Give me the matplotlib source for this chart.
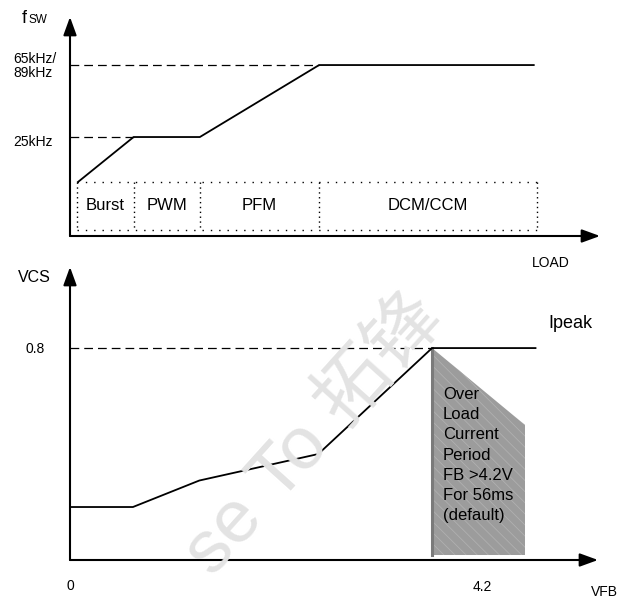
import matplotlib
matplotlib.use("Agg")
import matplotlib.pyplot as plt

plt.rcParams['font.family'] = ['Liberation Sans', 'Noto Sans CJK SC', 'DejaVu Sans']
plt.rcParams['hatch.linewidth'] = 0.6

# top panel: switching frequency vs load
load_pts = [1.5, 12, 24.5, 47, 87.5]
fsw_pts = [0, 25, 25, 65, 65]
mode_edges = [1.3, 12, 24.5, 47, 88.2]
mode_names = ['Burst', 'PWM', 'PFM', 'DCM/CCM']

# bottom panel: current sense limit vs feedback voltage
vfb_pts = [0, 0.73, 1.5, 2.88, 4.2, 5.4]
vcs_pts = [0.2, 0.2, 0.3, 0.4, 0.8, 0.8]
olp_vfb = [4.2, 4.2, 5.28, 5.28]
olp_vcs = [0.8, 0.02, 0.02, 0.51]
olp_text = 'Over\nLoad\nCurrent\nPeriod\nFB >4.2V\nFor 56ms\n(default)'

W, H = 628, 600
fig = plt.figure(figsize=(W / 100, H / 100), dpi=100)


def box(x0, y0, x1, y1):
    return [x0 / W, 1 - y1 / H, (x1 - x0) / W, (y1 - y0) / H]


def ftxt(x, y, s, **kw):
    fig.text(x / W, 1 - y / H, s, **kw)


# watermark
ftxt(315, 435, 'se To 拓锋', fontsize=54, color='#e3e3e3', rotation=48,
     ha='center', va='center', zorder=0)


def arrows(ax):
    for s in ax.spines.values():
        s.set_visible(False)
    ax.set_xticks([])
    ax.set_yticks([])
    ax.patch.set_alpha(0)
    kw = dict(arrowstyle='-|>,head_length=1.1,head_width=0.4', lw=1.5,
              color='black', shrinkA=0, shrinkB=0)
    ax.annotate('', xy=(0, 1), xytext=(0, 0), xycoords='axes fraction',
                arrowprops=kw, annotation_clip=False)
    ax.annotate('', xy=(1, 0), xytext=(0, 0), xycoords='axes fraction',
                arrowprops=kw, annotation_clip=False)


# ---- top panel
ax1 = fig.add_axes(box(70, 17, 600, 236))
ax1.set_xlim(0, 100)
ax1.set_ylim(-30, 91.7)
arrows(ax1)
dash = (0, (7, 4))
ax1.plot([0, load_pts[3]], [65, 65], color='black', lw=0.9, ls=dash)
ax1.plot([0, load_pts[1]], [25, 25], color='black', lw=0.9, ls=dash)
ax1.plot(load_pts, fsw_pts, color='black', lw=1.3)

btop, bbot = 0, -26.7
dots = (0, (1, 5))
vdots = (0, (1, 2.5))
ax1.plot([mode_edges[0], mode_edges[-1]], [btop, btop], color='black', lw=1, ls=dots)
ax1.plot([mode_edges[0], mode_edges[-1]], [bbot, bbot], color='black', lw=1, ls=dots)
for e in mode_edges:
    ax1.plot([e, e], [btop, bbot], color='black', lw=1, ls=vdots)
for i, name in enumerate(mode_names):
    ax1.text((mode_edges[i] + mode_edges[i + 1]) / 2, -13, name,
             ha='center', va='center', fontsize=12)

ftxt(22, 23, 'f', fontsize=13, va='baseline')
ftxt(28.5, 23, 'SW', fontsize=8.5, va='baseline')
ftxt(13, 66, '65kHz/\n89kHz', fontsize=10, va='center', linespacing=1.0)
ftxt(13, 142, '25kHz', fontsize=10, va='center')
ftxt(532, 263, 'LOAD', fontsize=10, va='center')

# ---- bottom panel
ax2 = fig.add_axes(box(70, 267, 598, 560))
ax2.set_xlim(0, 6.125)
ax2.set_ylim(0, 1.106)
arrows(ax2)
ax2.fill(olp_vfb, olp_vcs, facecolor='#9c9c9c', edgecolor='none', zorder=1)
ax2.fill(olp_vfb, olp_vcs, facecolor='none', edgecolor='#b0b0b0', hatch='\\\\\\',
         lw=0, zorder=1)
ax2.plot(olp_vfb[:2], olp_vcs[:2], color='#7a7a7a', lw=2.2, zorder=1)
ax2.plot([0, vfb_pts[4]], [0.8, 0.8], color='black', lw=0.9, ls=dash)
ax2.plot(vfb_pts, vcs_pts, color='black', lw=1.3, zorder=3)

ftxt(443, 455, olp_text, fontsize=12, va='center', linespacing=1.42)
ftxt(18, 278, 'VCS', fontsize=11.5, va='center')
ftxt(26, 349, '0.8', fontsize=10, va='center')
ftxt(548, 323, 'Ipeak', fontsize=13, va='center')
ftxt(70, 586, '0', fontsize=10, va='center', ha='center')
ftxt(482, 587, '4.2', fontsize=10, va='center', ha='center')
ftxt(591, 592, 'VFB', fontsize=10, va='center')

fig.savefig('out.png', dpi=100)
